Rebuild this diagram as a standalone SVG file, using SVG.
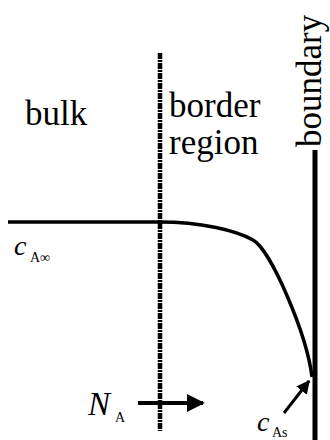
<svg xmlns="http://www.w3.org/2000/svg" width="330" height="440" viewBox="0 0 330 440">
<style>
text{font-family:'Liberation Serif','Times New Roman',serif;fill:#000}
.lbl{font-size:35px}
.it{font-style:italic}
.sub{font-size:14px}
.ln{fill:none;stroke:#000}
</style>
<defs>
<marker id="ah" viewBox="0 0 10 10" refX="9" refY="5" markerWidth="4.5" markerHeight="4.5" orient="auto" markerUnits="strokeWidth">
<path d="M0 0 L10 5 L0 10 z" fill="#000"/>
</marker>
</defs>
<rect width="330" height="440" fill="#fff"/>
<g id="connectors">
<line id="border-line" class="ln" x1="160" y1="53" x2="160" y2="431" stroke-width="4.5" stroke-dasharray="6 1 2 1"/>
<line id="boundary-line" class="ln" x1="315" y1="150" x2="315" y2="440" stroke-width="5"/>
<path id="profile" class="ln" stroke-width="3.5" d="M8 222 L160 222 C200 222 235 230 253 240 C271 250 307 335 312 377"/>
<line id="flux-arrow" class="ln" x1="138" y1="403" x2="203" y2="403" stroke-width="4" marker-end="url(#ah)"/>
<line id="cas-arrow" class="ln" x1="284" y1="413" x2="309" y2="381" stroke-width="3" marker-end="url(#ah)"/>
</g>
<g id="bulk"><text class="lbl" x="25" y="125">bulk</text></g>
<g id="border-region">
<text class="lbl" x="169" y="117">border</text>
<text class="lbl" x="169" y="154">region</text>
</g>
<g id="boundary"><text class="lbl" transform="translate(321 147) rotate(-90)">boundary</text></g>
<g id="cAinf">
<text class="it" x="14" y="255" font-size="28">c</text>
<text class="sub" x="30" y="262">A∞</text>
</g>
<g id="NA">
<text class="it" x="88" y="415" font-size="33">N</text>
<text class="sub" x="115" y="422">A</text>
</g>
<g id="cAs">
<text class="it" x="257" y="431" font-size="28">c</text>
<text class="sub" x="272" y="437">As</text>
</g>
</svg>
